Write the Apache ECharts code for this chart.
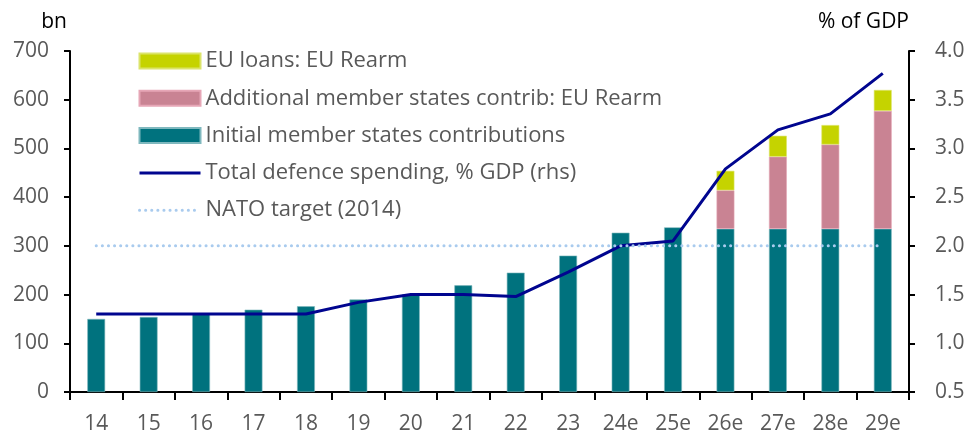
<!DOCTYPE html>
<html>
<head>
<meta charset="utf-8">
<script src="https://cdn.jsdelivr.net/npm/echarts@6/dist/echarts.min.js"></script>
<style>
  html, body { margin: 0; padding: 0; background: #fff; }
  #chart { width: 969px; height: 439px; }
</style>
</head>
<body>
<div id="chart"></div>
<script>
const years = ['14', '15', '16', '17', '18', '19', '20', '21', '22', '23', '24e', '25e', '26e', '27e', '28e', '29e']

// bn
const initialContrib = [150, 154, 160, 169, 176, 190, 200, 219, 245, 280, 327, 338, 335, 335, 335, 335]
const additionalContrib = [null, null, null, null, null, null, null, null, null, null, null, null, 79, 148, 173, 242]
const euLoans = [null, null, null, null, null, null, null, null, null, null, null, null, 40, 43, 40, 43]

// % of GDP (rhs)
const defencePctGdp = [1.3, 1.3, 1.3, 1.3, 1.3, 1.42, 1.5, 1.5, 1.48, 1.73, 2.0, 2.05, 2.79, 3.19, 3.355, 3.77]
const natoTarget = [2, 2, 2, 2, 2, 2, 2, 2, 2, 2, 2, 2, 2, 2, 2, 2]

const font = 'Open Sans'
const grey = '#595959'

const chart = echarts.init(document.getElementById('chart'))

chart.setOption({
  animation: false,
  textStyle: { fontFamily: font },
  legend: {
    orient: 'vertical',
    left: 138,
    top: 50,
    padding: 0,
    itemWidth: 61,
    itemHeight: 15,
    itemGap: 15.3,
    textStyle: { color: grey, fontSize: 22, lineHeight: 22, fontFamily: font },
    data: [
      { name: 'EU loans: EU Rearm', icon: 'rect' },
      { name: 'Additional member states contrib: EU Rearm', icon: 'rect' },
      { name: 'Initial member states contributions', icon: 'rect' },
      { name: 'Total defence spending, % GDP (rhs)', itemStyle: { opacity: 0 }, lineStyle: { width: 3 } },
      { name: 'NATO target (2014)', itemStyle: { opacity: 0 }, lineStyle: { width: 3 } }
    ]
  },
  grid: { left: 70, right: 60, top: 51, bottom: 47 },
  xAxis: {
    type: 'category',
    data: years,
    axisLine: { lineStyle: { color: '#000', width: 2 } },
    axisTick: { show: true, length: 8, lineStyle: { color: '#000', width: 2 } },
    axisLabel: { color: grey, fontSize: 21, margin: 22 }
  },
  yAxis: [{
    type: 'value',
    min: 0,
    max: 700,
    interval: 100,
    name: 'bn',
    nameLocation: 'end',
    nameGap: 18,
    nameTextStyle: { color: '#000', fontSize: 21, align: 'right', padding: [0, 3, 0, 0] },
    axisLine: { show: true, lineStyle: { color: '#000', width: 2 } },
    axisTick: { show: true, length: 6, lineStyle: { color: '#000', width: 2 } },
    axisLabel: { color: grey, fontSize: 21, margin: 21 },
    splitLine: { show: false }
  }, {
    type: 'value',
    min: 0.5,
    max: 4.0,
    interval: 0.5,
    name: '% of GDP',
    nameLocation: 'end',
    nameGap: 18,
    nameTextStyle: { color: '#000', fontSize: 21, align: 'right', padding: [0, 0, 0, 0] },
    axisLine: { show: true, lineStyle: { color: '#000', width: 2 } },
    axisTick: { show: true, length: 6, lineStyle: { color: '#000', width: 2 } },
    axisLabel: {
      color: grey,
      fontSize: 21,
      margin: 26,
      formatter: (v) => v.toFixed(1)
    },
    splitLine: { show: false }
  }],
  series: [{
    name: 'Initial member states contributions',
    type: 'bar',
    stack: 'bn',
    barWidth: '34%',
    data: initialContrib,
    itemStyle: { color: '#00727e', borderColor: '#7fb8be', borderWidth: 0.6 }
  }, {
    name: 'Additional member states contrib: EU Rearm',
    type: 'bar',
    stack: 'bn',
    data: additionalContrib,
    itemStyle: { color: '#c98393', borderColor: '#e6a6b6', borderWidth: 0.6 }
  }, {
    name: 'EU loans: EU Rearm',
    type: 'bar',
    stack: 'bn',
    data: euLoans,
    itemStyle: { color: '#c5d300', borderColor: '#dbe46a', borderWidth: 0.6 }
  }, {
    name: 'Total defence spending, % GDP (rhs)',
    type: 'line',
    yAxisIndex: 1,
    data: defencePctGdp,
    symbol: 'none',
    z: 4,
    lineStyle: { color: '#00058f', width: 3 },
    itemStyle: { color: '#00058f' }
  }, {
    name: 'NATO target (2014)',
    type: 'line',
    yAxisIndex: 1,
    data: natoTarget,
    symbol: 'none',
    z: 5,
    lineStyle: { color: '#a9cbee', width: 3, type: [0.1, 6], cap: 'round' },
    itemStyle: { color: '#a9cbee' }
  }]
})
</script>
</body>
</html>
